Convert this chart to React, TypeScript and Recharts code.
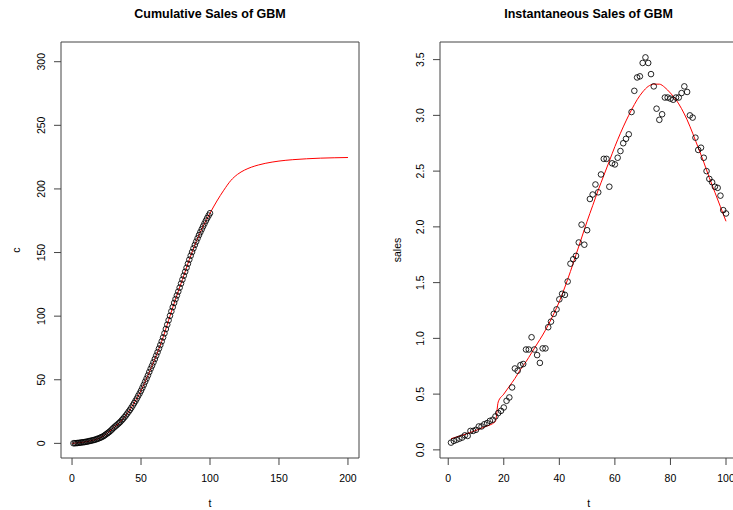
import React from 'react';
import {
  ComposedChart,
  Scatter,
  Line,
  XAxis,
  YAxis,
  ReferenceArea,
} from 'recharts';

// Observed instantaneous sales, t = 1..100
const sales = [
  0.065, 0.08, 0.09, 0.1, 0.11, 0.13, 0.125, 0.17, 0.17, 0.18,
  0.21, 0.21, 0.23, 0.24, 0.26, 0.27, 0.3, 0.33, 0.35, 0.38,
  0.44, 0.47, 0.56, 0.73, 0.71, 0.76, 0.77, 0.9, 0.9, 1.01,
  0.9, 0.85, 0.78, 0.91, 0.91, 1.1, 1.15, 1.22, 1.26, 1.35,
  1.4, 1.39, 1.51, 1.67, 1.71, 1.74, 1.86, 2.02, 1.84, 1.97,
  2.25, 2.29, 2.38, 2.31, 2.47, 2.61, 2.61, 2.36, 2.57, 2.56,
  2.62, 2.68, 2.75, 2.79, 2.83, 3.03, 3.22, 3.34, 3.35, 3.47,
  3.52, 3.47, 3.37, 3.26, 3.06, 2.96, 3.01, 3.16, 3.16, 3.15,
  3.14, 3.16, 3.16, 3.2, 3.26, 3.21, 3.0, 2.98, 2.8, 2.69,
  2.71, 2.62, 2.5, 2.43, 2.4, 2.36, 2.35, 2.28, 2.15, 2.12,
];

// Observed cumulative sales, t = 1..100
const cumulative = [
  0.1, 0.1, 0.2, 0.3, 0.4, 0.6, 0.7, 0.9, 1.0, 1.2,
  1.4, 1.7, 1.9, 2.2, 2.4, 2.7, 3.0, 3.4, 3.8, 4.2,
  4.7, 5.2, 5.8, 6.6, 7.4, 8.2, 9.0, 10.0, 11.0, 12.1,
  13.1, 14.0, 14.9, 15.9, 16.9, 18.1, 19.3, 20.6, 21.9, 23.4,
  24.9, 26.4, 28.0, 29.8, 31.6, 33.4, 35.3, 37.4, 39.3, 41.4,
  43.7, 46.0, 48.5, 50.9, 53.4, 56.1, 58.7, 61.1, 63.7, 66.3,
  69.0, 71.7, 74.5, 77.3, 80.2, 83.3, 86.5, 89.9, 93.3, 96.8,
  100.3, 103.8, 107.1, 110.4, 113.4, 116.3, 119.3, 122.4, 125.6, 128.7,
  131.8, 134.9, 138.0, 141.2, 144.4, 147.5, 150.4, 153.3, 156.0, 158.6,
  161.2, 163.7, 166.0, 168.3, 170.6, 172.8, 175.0, 177.1, 179.1, 180.9,
];

// GBM fitted cumulative curve, t = 0..200
const fitCumT = [
  0, 5, 10, 15, 20, 25, 30, 35, 40, 45, 50, 55, 60, 65, 70, 75, 80, 85, 90, 95, 100,
  105, 110, 115, 120, 125, 130, 135, 140, 145, 150, 160, 170, 180, 190, 200,
];
const fitCumV = [
  0, 0.5, 1.2, 2.4, 4.2, 7.4, 12.1, 16.9, 23.4, 31.6, 41.4, 53.4, 66.3, 80.2, 96.8, 113.4, 128.7, 144.4, 158.6, 170.6, 180.9,
  190.5, 199, 206.5, 211.5, 214.8, 217.1, 218.8, 220.1, 221.1, 221.9, 223.0, 223.7, 224.2, 224.5, 224.7,
];

// GBM fitted instantaneous sales (shock kicks in between t = 17 and 18)
const fitSalesT = [
  1, 5, 9, 13, 17, 18, 20, 22, 24, 26, 28, 30, 32, 34, 36, 38, 40, 42, 44, 46, 48, 50,
  52, 54, 56, 58, 60, 62, 64, 66, 68, 70, 72, 74, 76, 78, 80, 82, 84, 86, 88, 90,
  92, 94, 96, 98, 100,
];
const fitSalesV = [
  0.1, 0.13, 0.165, 0.205, 0.255, 0.43, 0.5, 0.57, 0.64, 0.72, 0.79, 0.87, 0.95, 1.03, 1.12, 1.22, 1.33, 1.46, 1.6, 1.75, 1.9, 2.05,
  2.19, 2.33, 2.46, 2.59, 2.72, 2.84, 2.95, 3.05, 3.14, 3.21, 3.26, 3.28, 3.28, 3.25, 3.2, 3.14, 3.06, 2.96, 2.84, 2.71,
  2.58, 2.44, 2.31, 2.18, 2.05,
];

const cumTicksX = [0, 50, 100, 150, 200];
const cumTicksY = [0, 50, 100, 150, 200, 250, 300];
const salesTicksX = [0, 20, 40, 60, 80, 100];
const salesTicksY = [0, 0.5, 1, 1.5, 2, 2.5, 3, 3.5];

const FONT = '"Liberation Sans", Arial, Helvetica, sans-serif';
const AXIS = '#444';

const cumPoints = cumulative.map((v, i) => ({ t: i + 1, v }));
const salesPoints = sales.map((v, i) => ({ t: i + 1, v }));
const cumFit = fitCumT.map((t, i) => ({ t, v: fitCumV[i] }));
const salesFit = fitSalesT.map((t, i) => ({ t, v: fitSalesV[i] }));

const openCircle = (p: any) => (
  <circle cx={p.cx} cy={p.cy} r={2.8} fill="none" stroke="#000" strokeWidth={0.85} />
);

function xTick(fmt: (v: number) => string) {
  return (p: any) => (
    <text x={p.x} y={481.5} textAnchor="middle" fontFamily={FONT} fontSize={10.5} fill="#000">
      {fmt(p.payload.value)}
    </text>
  );
}

function yTick(baseX: number, fmt: (v: number) => string) {
  return (p: any) => (
    <text
      x={baseX}
      y={p.y}
      transform={`rotate(-90, ${baseX}, ${p.y})`}
      textAnchor="middle"
      fontFamily={FONT}
      fontSize={10.5}
      fill="#000"
    >
      {fmt(p.payload.value)}
    </text>
  );
}

function PanelText() {
  const title = { fontFamily: FONT, fontSize: 12.5, fontWeight: 700, fill: '#000' } as const;
  const lab = { fontFamily: FONT, fontSize: 10.5, fill: '#000' } as const;
  return (
    <svg width={733} height={510} style={{ position: 'absolute', left: 0, top: 0, pointerEvents: 'none' }}>
      <text x={210} y={17.5} textAnchor="middle" {...title}>Cumulative Sales of GBM</text>
      <text x={588.6} y={17.5} textAnchor="middle" {...title}>Instantaneous Sales of GBM</text>
      <text x={210} y={507} textAnchor="middle" {...lab}>t</text>
      <text x={588.6} y={507} textAnchor="middle" {...lab}>t</text>
      <text x={20} y={250} textAnchor="middle" transform="rotate(-90, 20, 250)" {...lab}>c</text>
      <text x={400.5} y={250} textAnchor="middle" transform="rotate(-90, 400.5, 250)" {...lab}>sales</text>
    </svg>
  );
}

export default function App() {
  return (
    <div style={{ position: 'absolute', left: 0, top: 0, width: 733, height: 510, overflow: 'hidden', background: '#fff' }}>
      <div style={{ position: 'absolute', left: 0, top: 0 }}>
        <ComposedChart width={370} height={510} margin={{ top: 42, right: 11, bottom: 0, left: 0 }}>
          <XAxis
            type="number"
            dataKey="t"
            domain={[-8, 208]}
            ticks={cumTicksX}
            allowDataOverflow
            interval={0}
            height={52}
            tickSize={7}
            axisLine={false}
            tickLine={{ stroke: AXIS }}
            tick={xTick((v) => String(v))}
          />
          <YAxis
            type="number"
            dataKey="v"
            domain={[-11.5, 315.5]}
            ticks={cumTicksY}
            allowDataOverflow
            interval={0}
            width={61}
            tickSize={7}
            axisLine={false}
            tickLine={{ stroke: AXIS }}
            tick={yTick(45.5, (v) => String(v))}
          />
          <ReferenceArea x1={-8} x2={208} y1={-11.5} y2={315.5} fill="none" stroke={AXIS} strokeWidth={1} />
          <Scatter data={cumPoints} dataKey="v" shape={openCircle} isAnimationActive={false} />
          <Line
            data={cumFit}
            dataKey="v"
            type="monotone"
            stroke="#ff0000"
            strokeWidth={1}
            dot={false}
            activeDot={false}
            isAnimationActive={false}
          />
        </ComposedChart>
      </div>
      <div style={{ position: 'absolute', left: 370, top: 0 }}>
        <ComposedChart width={380} height={510} margin={{ top: 42, right: 13, bottom: 0, left: 0 }}>
          <XAxis
            type="number"
            dataKey="t"
            domain={[-2.96, 103.96]}
            ticks={salesTicksX}
            allowDataOverflow
            interval={0}
            height={52}
            tickSize={7}
            axisLine={false}
            tickLine={{ stroke: AXIS }}
            tick={xTick((v) => String(v))}
          />
          <YAxis
            type="number"
            dataKey="v"
            domain={[-0.073, 3.658]}
            ticks={salesTicksY}
            allowDataOverflow
            interval={0}
            width={70}
            tickSize={7}
            axisLine={false}
            tickLine={{ stroke: AXIS }}
            tick={yTick(54.5, (v) => v.toFixed(1))}
          />
          <ReferenceArea x1={-2.96} x2={103.96} y1={-0.073} y2={3.658} fill="none" stroke={AXIS} strokeWidth={1} />
          <Scatter data={salesPoints} dataKey="v" shape={openCircle} isAnimationActive={false} />
          <Line
            data={salesFit}
            dataKey="v"
            type="monotone"
            stroke="#ff0000"
            strokeWidth={1}
            dot={false}
            activeDot={false}
            isAnimationActive={false}
          />
        </ComposedChart>
      </div>
      <PanelText />
    </div>
  );
}
